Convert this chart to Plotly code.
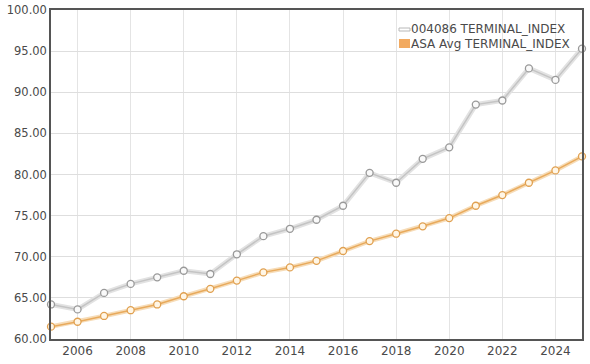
import plotly.graph_objects as go

years = list(range(2005, 2026))
series_1_name = "004086 TERMINAL_INDEX"
series_1 = [64.2, 63.6, 65.6, 66.7, 67.5, 68.3, 67.9, 70.3, 72.5, 73.4, 74.5,
            76.2, 80.2, 79.0, 81.9, 83.3, 88.5, 89.0, 92.9, 91.5, 95.3]
series_2_name = "ASA Avg TERMINAL_INDEX"
series_2 = [61.5, 62.1, 62.8, 63.5, 64.2, 65.2, 66.1, 67.1, 68.1, 68.7, 69.5,
            70.7, 71.9, 72.8, 73.7, 74.7, 76.2, 77.5, 79.0, 80.5, 82.2]
x_ticks = list(range(2006, 2025, 2))
y_ticks = [60, 65, 70, 75, 80, 85, 90, 95, 100]

W, H = 590, 364
L, R, T, B = 51, 8, 10, 25
pw, ph = W - L - R, H - T - B

def px(x):
    return (x - L) / pw

def py(y):
    return (H - B - y) / ph

fig = go.Figure()
# halos
fig.add_trace(go.Scatter(x=years, y=series_1, mode="lines",
                         line=dict(color="#e2e2e2", width=5), hoverinfo="skip", showlegend=False))
fig.add_trace(go.Scatter(x=years, y=series_1, mode="lines+markers", name=series_1_name,
                         line=dict(color="#c4c4c4", width=1.5),
                         marker=dict(size=7, color="#fafafa", line=dict(color="#999999", width=1.3)),
                         showlegend=False, cliponaxis=False))
fig.add_trace(go.Scatter(x=years, y=series_2, mode="lines",
                         line=dict(color="#f6dcb8", width=4.5), hoverinfo="skip", showlegend=False))
fig.add_trace(go.Scatter(x=years, y=series_2, mode="lines+markers", name=series_2_name,
                         line=dict(color="#e8aa5c", width=1.5),
                         marker=dict(size=7, color="#fff6e6", line=dict(color="#e0a050", width=1.3)),
                         showlegend=False, cliponaxis=False))

font = "DejaVu Sans, Verdana, sans-serif"
shapes = [
    dict(type="rect", xref="paper", yref="paper", x0=px(399), x1=px(410), y0=py(31), y1=py(28),
         line=dict(color="#b8b8b8", width=1), fillcolor="#ffffff", layer="above"),
    dict(type="rect", xref="paper", yref="paper", x0=px(399), x1=px(410), y0=py(48), y1=py(39),
         line=dict(color="#f0a85a", width=0), fillcolor="#f2aa60", layer="above"),
]
annotations = [
    dict(xref="paper", yref="paper", x=px(409), y=py(29.5), xanchor="left", yanchor="middle",
         text=series_1_name, showarrow=False, font=dict(family=font, size=12, color="#4a4a4a")),
    dict(xref="paper", yref="paper", x=px(409), y=py(44), xanchor="left", yanchor="middle",
         text=series_2_name, showarrow=False, font=dict(family=font, size=12, color="#4a4a4a")),
]

fig.update_layout(
    width=W, height=H,
    margin=dict(l=L, r=R, t=T, b=B, pad=0, autoexpand=False),
    paper_bgcolor="#ffffff", plot_bgcolor="#ffffff",
    font=dict(family=font, size=12, color="#4a4a4a"),
    shapes=shapes, annotations=annotations,
    xaxis=dict(range=[2005, 2025], tickvals=x_ticks, ticktext=[str(v) for v in x_ticks],
               showgrid=True, gridcolor="#e4e4e4", gridwidth=1, automargin=False,
               showline=True, linecolor="#555555", linewidth=1.5, mirror=True,
               ticks="", zeroline=False, tickfont=dict(size=12, color="#4a4a4a")),
    yaxis=dict(range=[60, 100], tickvals=y_ticks, ticktext=[f"{v:.2f}" for v in y_ticks],
               showgrid=True, gridcolor="#dedede", gridwidth=1, automargin=False,
               showline=True, linecolor="#555555", linewidth=1.5, mirror=True,
               ticks="", zeroline=False, tickfont=dict(size=11.5, color="#4a4a4a")),
)

fig.write_html("out.html", config={"displayModeBar": False},
               post_script="document.body.style.margin='0';")
